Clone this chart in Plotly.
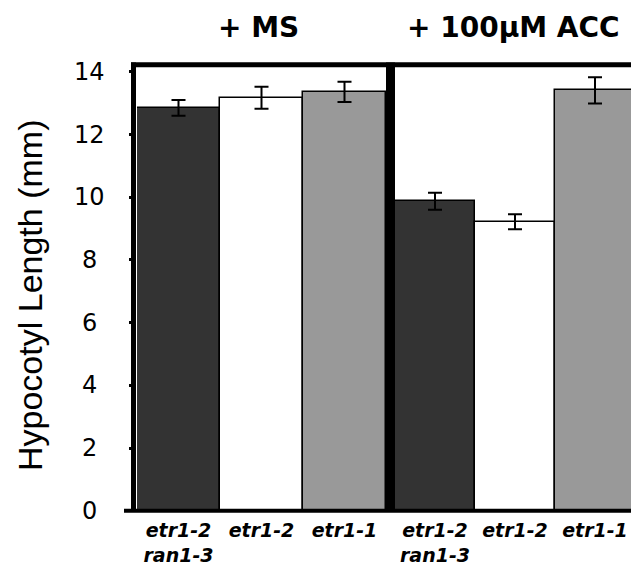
import plotly.graph_objects as go

# ---- data ----
genotypes = ["etr1-2 ran1-3", "etr1-2", "etr1-1"]
tick_labels = ["etr1-2<br>ran1-3", "etr1-2", "etr1-1"]
ms_values = [12.85, 13.17, 13.36]
ms_errors = [0.25, 0.35, 0.32]
acc_values = [9.87, 9.22, 13.41]
acc_errors = [0.27, 0.24, 0.42]
bar_colors = ["#333333", "#ffffff", "#999999"]
panel_titles = ["+ MS", "+ 100\u03bcM ACC"]
y_ticks = [0, 2, 4, 6, 8, 10, 12, 14]
y_title = "Hypocotyl Length (mm)"

# ---- layout geometry (pixels) ----
W, H = 639, 575
L, R, T, B = 123, 6, 54, 70
PW, PH = W - L - R, H - T - B


def px(x):
    return (x - L) / PW


def py(y):
    return (H - B - y) / PH


fig = go.Figure()
idx = list(range(len(genotypes)))
for vals, errs, xa in [(ms_values, ms_errors, "x"), (acc_values, acc_errors, "x2")]:
    fig.add_trace(go.Bar(
        x=idx, y=vals, xaxis=xa, yaxis="y", width=1,
        marker=dict(color=bar_colors, line=dict(color="black", width=1.5)),
        error_y=dict(type="data", array=errs, visible=True, color="black",
                     thickness=2, width=7),
        showlegend=False,
    ))

xcommon = dict(range=[-0.5, 2.5], tickvals=idx, ticktext=tick_labels,
               showgrid=False, zeroline=False, showline=False, ticks="",
               ticklabelstandoff=4,
               tickfont=dict(family="DejaVu Sans", size=19, color="black",
                             weight="bold", style="italic"))

fig.update_layout(
    width=W, height=H,
    margin=dict(l=L, r=R, t=T, b=B),
    paper_bgcolor="white", plot_bgcolor="white",
    bargap=0,
    xaxis=dict(domain=[px(129), px(378)], anchor="y", **xcommon),
    xaxis2=dict(domain=[px(387), px(627)], anchor="y", **xcommon),
    yaxis=dict(range=[-0.073, 14.313], tickvals=y_ticks, showticklabels=False,
               showgrid=False, zeroline=False, showline=False,
               ticks="outside", ticklen=7, tickwidth=3, tickcolor="black"),
)

shapes = [
    # bottom baseline
    dict(type="line", xref="paper", yref="y", x0=px(116), x1=px(633), y0=0, y1=0,
         line=dict(color="black", width=4)),
    # left frame
    dict(type="line", xref="paper", yref="paper", x0=px(125.5), x1=px(125.5),
         y0=py(502.7), y1=py(54.5), line=dict(color="black", width=5)),
    # top frame
    dict(type="line", xref="paper", yref="paper", x0=px(123), x1=px(633),
         y0=py(56.7), y1=py(56.7), line=dict(color="black", width=5)),
    # right frame
    dict(type="line", xref="paper", yref="paper", x0=px(630), x1=px(630),
         y0=py(502.7), y1=py(54.5), line=dict(color="black", width=6)),
    # divider
    dict(type="line", xref="paper", yref="paper", x0=px(382.5), x1=px(382.5),
         y0=py(502.7), y1=py(54.5), line=dict(color="black", width=9)),
]
fig.update_layout(shapes=shapes)

annotations = [
    dict(text=panel_titles[0], x=px(250), y=py(20), xref="paper", yref="paper",
         showarrow=False, xanchor="center", yanchor="middle",
         font=dict(family="DejaVu Sans", size=28, color="black", weight="bold")),
    dict(text=panel_titles[1], x=px(505), y=py(20), xref="paper", yref="paper",
         showarrow=False, xanchor="center", yanchor="middle",
         font=dict(family="DejaVu Sans", size=28, color="black", weight="bold")),
    dict(text=y_title, x=px(22), y=py(288), xref="paper", yref="paper",
         showarrow=False, xanchor="center", yanchor="middle", textangle=-90,
         font=dict(family="Liberation Sans", size=34, color="black")),
]
# y tick labels, centred in the label column as in the reference
for v in y_ticks:
    annotations.append(dict(text=str(v), x=px(81.5), y=v, xref="paper", yref="y",
                            showarrow=False, xanchor="center", yanchor="middle",
                            font=dict(family="DejaVu Sans", size=24, color="black")))
fig.update_layout(annotations=annotations)

fig.write_html("out.html")
